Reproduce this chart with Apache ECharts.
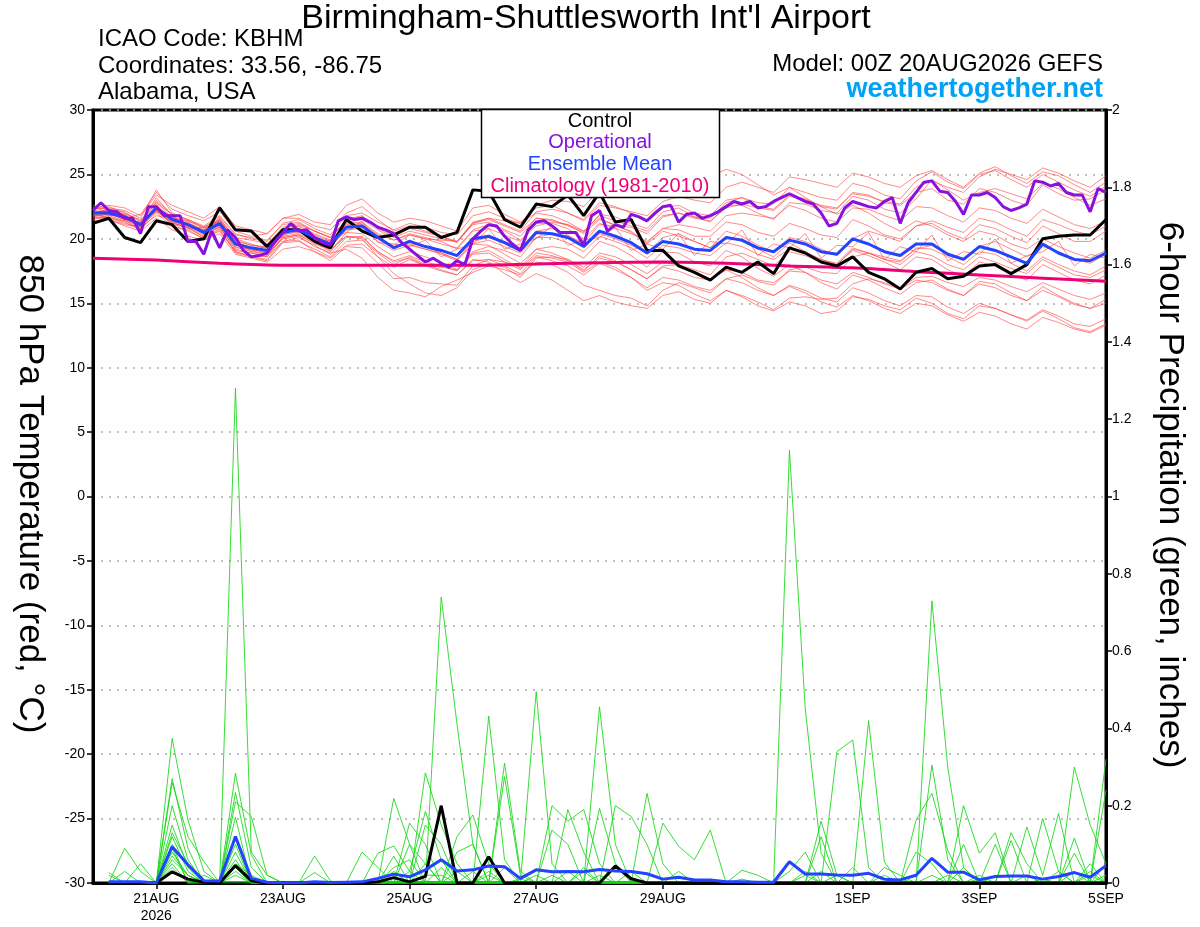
<!DOCTYPE html>
<html><head><meta charset="utf-8">
<script src="https://cdn.jsdelivr.net/npm/echarts@6/dist/echarts.min.js"></script>
<style>html,body{margin:0;padding:0;background:#fff}#c{width:1200px;height:927px}</style>
</head><body><div id="c"></div>
<script>
// x axis: hours since 00Z 20AUG2026
const tickHours = [24, 72, 120, 168, 216, 288, 336, 384];
const tickLabels = ['21AUG\n2026', '23AUG', '25AUG', '27AUG', '29AUG', '1SEP', '3SEP', '5SEP'];

// 850 hPa temperature (6-hourly from h0)
const controlT = [21.2,21.6,20.1,19.7,21.4,21.1,19.8,20.0,22.4,20.7,20.6,19.4,20.7,20.7,19.8,19.3,21.5,20.6,20.1,20.3,20.9,20.9,20.1,20.5,23.8,23.7,21.5,20.9,22.7,22.5,23.4,21.8,23.6,21.3,21.5,19.1,19.1,17.9,17.4,16.8,17.8,17.4,18.2,17.3,19.3,18.9,18.2,17.9,18.6,17.4,16.9,16.1,17.4,17.7,16.9,17.1,17.9,18.0,17.3,18.0,20.0,20.2,20.3,20.3,21.5];
const meanT = [22.0,22.0,21.7,21.1,22.4,21.5,21.1,20.5,21.2,19.6,19.3,19.1,20.5,20.7,20.1,19.6,20.9,21.0,20.1,19.3,19.8,19.4,19.1,18.7,20.0,20.2,19.7,19.1,20.5,20.4,20.1,19.4,20.6,20.2,19.7,18.9,19.8,19.6,19.2,19.1,20.1,19.9,19.3,19.0,19.9,19.6,19.0,18.8,20.0,19.6,19.0,18.7,19.6,19.6,18.8,18.4,19.4,19.1,18.6,18.1,19.6,18.9,18.4,18.3,18.9];
// operational (3-hourly from h0)
const operationalT = [22.2,22.8,22.2,22.1,21.6,21.6,20.4,22.5,22.5,21.8,21.8,21.8,19.8,19.8,18.8,20.6,
19.3,20.7,20.1,19.1,18.6,18.7,18.9,19.8,20.5,21.2,20.6,20.7,20.1,19.7,19.5,21.4,
21.7,21.5,21.6,21.3,20.9,20.7,20.4,19.7,19.2,18.7,18.2,18.5,18.1,17.8,18.3,18.0,
20.0,20.6,21.1,21.0,20.2,19.6,19.1,20.7,21.3,21.4,21.0,20.5,20.5,20.5,19.5,21.8,
22.2,20.6,21.1,20.9,21.9,21.7,21.4,22.0,22.5,22.6,21.3,21.9,22.0,21.6,21.8,22.1,
22.5,22.9,22.7,22.9,22.4,22.5,22.9,23.2,23.5,23.2,22.9,22.7,22.0,21.0,21.2,22.4,
22.9,22.7,22.5,22.4,22.9,23.2,21.2,22.8,23.6,24.4,24.5,23.7,23.6,22.9,21.9,23.4,
23.4,23.6,23.2,22.5,22.2,22.4,22.7,24.5,24.4,24.1,24.3,23.6,23.4,23.4,22.1,23.9,
23.6];
// climatology (daily from h0)
const climT = [18.5,18.35,18.1,17.95,17.95,17.95,17.95,18.05,18.15,18.2,18.1,17.9,17.75,17.45,17.2,16.95,16.7];

// ensemble members, temperature (6-hourly from h0)
const memT01 = [22.3,22.5,22.0,21.4,23.0,21.9,21.5,21.0,21.8,20.4,20.0,19.8,21.2,21.5,20.8,20.3,21.8,22.0,21.3,20.7,21.2,20.9,20.5,20.3,21.8,22.1,21.6,21.2,22.4,22.6,22.0,21.5,22.8,22.5,22.0,21.3,22.4,22.6,22.0,21.8,23.0,23.2,22.5,22.3,23.4,23.1,22.5,22.3,23.6,23.4,22.8,22.6,23.6,23.9,23.0,22.7,23.9,23.6,23.0,22.6,24.2,23.5,23.0,23.1,23.8];
const memT02 = [21.6,21.7,21.3,20.7,22.0,21.0,20.7,20.0,20.6,19.0,18.6,18.3,19.7,19.8,19.2,18.6,19.8,19.9,18.9,18.0,18.6,18.0,17.6,17.2,18.3,18.4,17.9,17.3,18.6,18.3,17.9,17.2,18.1,17.6,17.0,16.2,17.0,16.8,16.3,16.0,16.9,16.6,16.0,15.6,16.4,16.0,15.4,15.1,16.2,15.8,15.2,14.8,15.6,15.5,14.7,14.2,15.0,14.6,14.1,13.7,14.5,14.0,13.4,13.2,13.8];
const memT03 = [22.1,21.8,21.9,21.5,22.1,21.8,20.8,20.9,21.0,19.9,19.0,19.5,20.2,21.0,19.7,19.9,20.5,21.4,19.7,19.6,19.4,19.9,18.6,19.2,19.6,20.8,19.2,19.6,20.0,21.0,19.5,19.9,20.1,20.9,19.1,19.6,19.2,20.4,18.7,19.8,19.6,20.7,18.7,19.6,19.3,20.4,18.5,19.5,19.4,20.5,18.4,19.4,19.0,20.3,18.3,19.0,18.8,20.0,18.1,18.7,19.0,19.8,17.9,18.8,18.5];
const memT04 = [22.6,22.2,21.6,21.9,23.6,22.3,21.8,21.4,22.1,20.6,20.2,20.4,21.6,21.9,21.3,21.1,22.6,23.1,22.0,21.3,21.6,21.4,21.0,20.6,22.4,22.6,21.9,21.3,22.0,21.8,21.3,20.6,21.6,21.0,20.6,19.6,20.6,20.2,19.8,19.3,20.2,19.8,19.2,18.6,19.7,19.0,18.4,18.0,19.1,18.7,18.2,17.6,18.6,18.4,17.6,17.1,18.2,17.9,17.2,16.8,18.0,17.4,16.8,16.5,17.2];
const memT05 = [21.4,21.5,21.0,20.6,21.6,20.7,20.2,19.9,20.4,18.8,18.5,18.2,19.2,19.4,19.0,18.5,19.5,19.6,18.6,17.8,18.4,17.9,17.8,17.6,19.0,19.4,19.1,18.6,20.1,20.4,20.2,19.7,21.1,21.0,20.9,20.4,21.7,22.0,21.7,21.6,22.8,23.2,22.8,22.7,24.0,23.6,23.2,23.0,24.3,24.0,23.4,23.1,24.5,25.2,24.4,23.9,25.0,25.3,24.6,24.0,25.0,24.4,23.8,23.3,24.1];
const memT06 = [21.9,22.3,21.9,20.9,22.3,21.1,20.9,20.1,20.8,18.9,18.6,18.4,19.8,19.9,19.0,18.3,19.4,19.3,18.1,16.9,17.0,16.6,16.5,16.4,17.9,18.4,18.2,17.8,19.2,19.4,19.2,18.5,19.8,19.4,18.7,17.8,19.0,18.9,18.2,17.9,19.1,18.6,17.7,17.1,18.0,17.4,16.6,16.1,17.2,16.8,16.2,15.7,16.6,16.8,16.1,15.6,16.7,16.5,15.8,15.2,16.3,15.6,15.0,14.6,15.3];
const memT07 = [22.4,22.6,22.4,21.8,23.4,22.6,22.1,21.6,22.5,21.0,20.7,20.4,21.6,21.6,21.0,20.7,22.0,22.5,21.5,20.6,21.0,20.6,20.2,19.8,21.3,21.6,21.1,20.6,22.1,22.3,22.0,21.4,22.6,22.4,22.1,21.8,22.9,23.3,23.0,22.8,24.0,24.4,24.0,23.6,24.8,24.6,24.3,24.0,25.1,24.8,24.3,24.0,24.9,25.3,24.6,24.0,25.1,25.6,24.9,24.3,25.2,24.9,24.2,23.6,24.4];
const memT08 = [21.8,22.0,21.5,21.0,22.6,21.4,21.0,20.4,21.1,19.5,19.1,18.8,20.1,20.3,19.7,19.0,20.5,20.4,19.4,18.6,19.0,18.6,18.2,17.6,18.8,18.9,18.2,17.6,18.7,18.5,18.2,17.4,18.2,17.8,17.0,16.0,16.6,16.4,15.7,15.2,16.0,15.5,14.8,14.4,15.1,14.8,14.2,14.4,15.5,15.3,14.8,14.5,15.4,15.0,14.2,13.8,14.8,14.6,14.1,13.6,14.4,13.8,13.1,12.8,13.4];
const memT09 = [22.2,22.1,21.8,21.2,22.2,21.6,21.4,20.9,21.5,20.1,19.9,19.6,20.9,21.2,20.6,20.1,21.3,21.5,20.7,19.9,20.4,20.1,19.8,19.2,20.6,20.8,20.3,19.8,21.2,21.2,20.8,20.0,21.2,20.8,20.4,19.8,20.8,20.7,20.2,20.2,21.3,21.1,20.5,20.2,21.2,20.8,20.3,20.1,21.5,21.0,20.3,20.0,21.0,21.2,20.5,20.0,21.1,20.8,20.2,19.7,21.0,20.4,19.8,19.8,20.6];
const memT10 = [21.7,21.9,21.6,21.1,22.7,21.3,20.8,20.2,21.0,19.1,18.9,18.6,20.1,20.3,19.6,19.2,20.2,20.0,18.6,17.3,16.5,15.8,15.6,16.2,17.6,18.1,17.8,17.0,18.5,18.6,18.4,17.6,18.5,18.2,17.6,16.9,17.9,18.0,17.6,17.2,18.6,18.9,18.4,17.9,19.0,18.7,18.2,18.0,19.2,18.9,18.4,18.2,19.3,19.2,18.6,18.0,19.0,18.8,18.1,17.5,18.6,18.0,17.5,17.2,17.9];
const memT11 = [22.0,21.6,21.4,21.0,22.5,21.7,21.3,20.6,21.5,19.8,19.5,19.4,20.8,21.1,20.6,20.1,21.5,21.8,20.8,20.1,20.6,20.3,20.0,19.8,21.2,21.6,21.4,21.2,22.6,23.0,22.9,22.5,23.8,24.0,24.2,24.4,25.3,25.5,25.2,24.8,25.4,25.0,24.2,23.4,24.0,23.2,22.5,21.9,22.6,22.0,21.2,20.6,21.4,21.0,20.3,19.8,20.6,20.3,19.6,19.2,20.0,19.4,18.9,18.5,19.1];
const memT12 = [22.0,22.2,21.9,21.0,22.1,21.3,21.1,20.4,20.9,19.2,18.9,18.7,20.2,20.4,19.8,19.1,20.2,20.1,19.0,18.3,18.7,18.2,17.9,17.5,18.9,19.1,18.4,17.7,18.9,18.7,18.3,17.5,18.7,18.3,17.6,16.9,17.8,17.5,17.0,16.8,17.6,17.4,16.8,16.6,17.5,17.4,16.8,16.5,17.4,17.0,16.5,16.1,16.8,16.6,16.0,15.6,16.5,16.2,15.6,15.2,16.0,15.5,14.9,14.6,15.0];
const memT13 = [22.5,22.0,21.5,21.3,23.2,21.8,21.0,20.7,21.6,20.0,19.6,19.2,20.4,20.5,20.1,19.4,20.7,21.0,20.0,19.5,20.3,20.0,19.9,19.8,21.1,21.3,20.7,20.2,21.6,21.5,21.0,20.5,21.9,21.7,21.2,20.8,22.1,22.4,21.7,21.3,22.6,22.6,22.0,21.5,22.8,22.7,22.2,22.0,23.3,23.0,22.3,22.0,23.1,24.6,23.8,23.0,23.6,23.9,23.5,23.1,24.3,23.9,23.2,22.6,23.1];
const memT14 = [21.5,21.8,21.4,20.8,22.2,21.2,20.9,20.3,20.9,19.4,19.0,18.8,20.0,20.2,19.4,18.9,19.2,18.5,17.0,16.0,15.8,15.5,16.3,16.8,17.4,17.9,17.6,17.2,18.2,18.0,17.4,16.4,16.0,15.6,15.4,14.8,16.0,16.6,16.2,15.8,16.9,17.2,16.7,16.4,17.6,17.8,17.4,17.3,18.6,18.9,18.6,18.3,19.2,19.5,18.9,18.5,19.4,19.8,19.2,18.6,19.4,19.0,18.4,18.1,18.8];
const memT15 = [22.0,22.3,22.1,21.3,22.8,21.9,21.4,20.8,21.4,19.9,19.5,19.3,20.7,21.0,20.4,19.9,21.2,21.3,20.4,19.9,20.3,20.0,19.6,19.3,20.7,21.1,20.6,19.9,21.0,21.3,21.1,20.4,21.5,21.1,20.5,19.7,20.8,21.1,20.9,20.6,21.8,22.0,21.8,21.6,22.6,22.2,21.6,21.3,22.4,22.3,21.8,21.4,22.5,22.4,21.8,21.3,22.4,22.2,21.6,21.2,22.3,21.7,21.1,20.8,21.4];
const memT16 = [21.9,21.6,21.2,20.9,22.4,21.0,20.6,20.0,20.7,19.0,18.7,18.6,19.8,20.1,19.5,18.8,20.1,20.2,19.0,18.2,18.5,17.9,17.5,17.2,18.4,18.2,17.3,16.6,17.3,16.8,16.0,15.2,15.6,15.1,14.8,14.6,15.6,15.9,15.3,15.0,16.0,15.6,15.1,14.5,15.4,15.5,15.3,15.4,16.5,16.9,16.6,16.2,17.0,17.1,16.6,16.3,17.0,16.8,16.3,15.9,16.6,16.1,15.6,15.3,15.8];
const memT17 = [21.8,21.9,21.5,21.1,22.3,21.2,21.0,20.5,21.1,19.3,19.2,18.9,20.3,20.6,19.9,19.4,20.7,20.8,19.8,19.1,19.5,19.2,18.9,18.4,19.6,19.9,19.4,18.9,20.1,20.1,19.7,19.0,20.2,19.8,19.3,18.5,19.5,19.3,18.9,18.7,19.7,19.4,18.8,18.4,19.2,18.9,18.4,18.1,19.3,18.9,18.4,18.0,19.0,18.7,18.0,17.6,18.6,18.2,17.7,17.3,18.4,17.8,17.2,17.0,17.6];
const memT18 = [22.3,22.4,22.2,21.6,23.8,22.0,21.5,20.9,21.7,20.3,20.1,19.9,21.1,21.3,20.6,20.1,21.4,21.7,20.9,20.2,20.8,20.5,20.2,19.7,21.2,21.5,21.0,20.5,21.6,21.4,21.1,20.6,21.8,21.4,21.0,20.6,21.8,22.0,21.6,21.4,22.4,22.7,22.4,22.2,23.3,23.0,22.6,22.4,23.5,23.3,22.9,22.7,24.0,24.5,24.0,23.6,24.8,25.4,25.0,24.6,25.5,25.1,24.5,24.0,24.9];
const memT19 = [21.7,21.5,21.1,20.9,21.8,21.5,21.2,20.7,21.4,19.7,19.3,19.1,20.4,20.8,20.3,19.8,21.1,21.2,20.3,19.3,19.9,19.4,18.9,18.4,19.8,20.1,19.8,19.3,20.6,20.8,20.3,19.5,20.4,20.0,19.5,18.9,20.1,20.4,19.8,19.3,20.6,20.2,19.5,19.0,20.1,19.8,19.2,18.7,20.0,20.6,20.2,19.8,21.0,21.4,20.9,20.5,21.6,21.3,20.7,20.2,21.5,21.1,20.6,20.3,21.0];
const memT20 = [22.1,22.1,21.7,21.2,22.9,21.6,21.2,20.6,21.4,19.6,19.2,18.9,20.5,20.8,20.2,19.6,21.0,21.1,20.0,19.4,19.6,19.2,18.8,18.3,19.6,19.5,18.8,18.1,19.2,18.9,18.4,17.8,18.9,18.6,18.0,17.3,18.2,18.0,17.4,16.9,17.6,17.0,16.2,15.6,16.3,15.8,15.1,14.7,15.6,15.2,14.6,14.2,15.0,14.8,14.1,13.6,14.3,14.0,13.4,13.0,13.9,13.5,13.0,12.7,13.3];
const membersT = [memT01,memT02,memT03,memT04,memT05,memT06,memT07,memT08,memT09,memT10,memT11,memT12,memT13,memT14,memT15,memT16,memT17,memT18,memT19,memT20];

// 6-hour precipitation (inches), 6-hourly from h6
const controlP = [0,0,0,0,0.029,0.01,0.002,0, 0.045,0.006,0,0,0,0,0,0, 0,0.003,0.014,0.003,0.017,0.2,0,0, 0.068,0,0,0,0,0,0,0, 0.044,0.011,0,0,0,0,0,0, 0,0,0,0,0,0,0,0, 0,0,0,0,0,0,0,0, 0,0,0,0,0,0,0,0];
const meanP = [0.003,0.003,0.003,0,0.094,0.047,0.006,0.005, 0.12,0.012,0.002,0,0,0.003,0.001,0.002, 0.003,0.012,0.023,0.016,0.034,0.06,0.031,0.034, 0.044,0.042,0.012,0.034,0.029,0.03,0.029,0.035, 0.031,0.03,0.024,0.01,0.015,0.008,0.008,0.003, 0.003,0.002,0.002,0.055,0.023,0.023,0.021,0.02, 0.025,0.01,0.008,0.02,0.064,0.028,0.028,0.008, 0.017,0.018,0.018,0.01,0.017,0.027,0.015,0.045];
const memP01 = [0.027,0,0,0,0.374,0.163,0.03,0, 0.284,0.073,0,0,0,0,0,0, 0,0,0,0,0.285,0.15,0.05,0, 0,0,0,0.495,0.05,0,0,0, 0,0,0,0,0,0,0,0, 0,0,0,0.03,0.08,0,0,0, 0,0,0,0,0.305,0.06,0,0, 0,0,0,0,0,0.3,0.15,0.05];
const memP02 = [0,0,0,0,0.27,0.09,0,0, 1.28,0.08,0.02,0,0,0,0,0, 0,0,0.04,0.06,0,0.74,0.41,0.1, 0,0,0,0,0,0,0,0.193, 0.05,0,0,0,0,0,0,0, 0,0,0,0,0,0.16,0.02,0, 0,0,0,0.163,0.232,0.085,0,0, 0,0,0,0.167,0.03,0,0,0];
const memP03 = [0,0.09,0.03,0,0.26,0.12,0.056,0, 0.234,0.04,0,0,0,0.07,0.005,0, 0,0,0,0,0,0,0,0, 0.432,0.06,0,0,0,0,0,0, 0,0,0.232,0.05,0,0,0,0, 0,0,0,1.12,0.45,0.077,0,0, 0,0,0,0,0,0,0,0, 0,0.13,0.05,0,0,0,0,0.32];
const memP04 = [0,0,0.05,0,0.2,0.06,0,0, 0.21,0.172,0.02,0,0,0,0,0, 0,0,0.219,0.1,0.05,0,0,0, 0,0.31,0.03,0,0,0.19,0.08,0, 0,0,0,0,0,0,0,0, 0,0,0,0,0,0,0.34,0.37, 0.04,0,0,0,0,0,0.2,0.077, 0.13,0,0,0,0,0,0.05,0];
const memP05 = [0.02,0,0,0,0.15,0.04,0,0, 0.17,0,0,0,0,0.027,0,0, 0,0.077,0.096,0.03,0.185,0.06,0,0, 0,0,0,0,0.2,0.16,0.19,0.05, 0,0,0,0,0,0,0,0, 0,0,0,0,0,0,0,0, 0.42,0.054,0,0,0.73,0.3,0.04,0, 0,0,0,0,0,0.116,0,0.24];
const memP06 = [0,0,0,0,0.12,0.03,0,0, 0.12,0,0,0,0,0,0,0, 0.08,0.04,0,0.155,0.1,0,0.12,0.176, 0.05,0,0,0,0,0,0,0, 0.2,0.172,0.1,0,0,0,0,0, 0,0,0,0,0,0.12,0,0, 0,0.04,0.02,0,0,0,0,0, 0,0,0.145,0.02,0.18,0,0,0];
const memP07 = [0,0,0,0,0.08,0.02,0,0, 0.1,0,0,0,0,0,0,0, 0,0,0,0,0.15,0.1,0,0, 0,0.275,0.02,0,0,0,0,0.456, 0.1,0,0,0.155,0.095,0.06,0.137,0, 0,0,0,0,0,0,0,0, 0,0,0,0,0,0,0.1,0, 0,0.11,0,0,0,0.077,0,0];
const memP08 = [0,0,0,0,0.06,0.02,0,0, 0.08,0,0,0,0,0,0,0, 0,0,0.07,0,0,0,0.08,0.1, 0,0,0,0,0.137,0.1,0,0, 0,0,0,0,0.03,0,0,0, 0.033,0.02,0,0,0,0,0,0, 0,0,0,0.08,0.05,0,0,0, 0.1,0,0,0,0,0,0,0.05];
const memP09 = [0,0.03,0,0,0.05,0,0,0, 0.06,0,0,0,0,0,0,0, 0,0,0,0.1,0,0.04,0,0, 0.02,0,0,0.02,0,0,0,0, 0,0.03,0,0,0,0,0,0, 0,0,0,0,0.02,0,0,0.04, 0,0,0,0,0,0,0,0.02, 0,0,0,0,0.03,0,0.02,0];
const memP10 = [0,0,0,0,0.1,0,0,0, 0.04,0,0,0,0,0,0,0, 0,0,0,0,0.05,0,0,0, 0,0.04,0,0,0,0,0.04,0, 0,0,0,0,0,0,0,0, 0,0,0,0,0,0,0,0, 0,0.02,0,0,0,0,0.04,0, 0,0,0,0,0,0.03,0,0];
const memP11 = [0,0,0,0,0.09,0,0.02,0, 0.03,0,0,0,0,0,0,0, 0,0,0.03,0,0,0,0,0.03, 0,0,0,0,0,0.03,0,0, 0,0,0,0,0,0,0,0, 0,0,0,0,0.03,0,0,0, 0,0,0,0,0,0.02,0,0, 0,0,0,0,0,0,0,0];
const memP12 = [0,0,0,0,0.07,0.02,0,0, 0,0,0,0,0,0,0,0, 0,0,0,0,0,0,0,0, 0.03,0,0.01,0,0,0,0,0.02, 0,0,0,0,0,0,0,0, 0,0,0,0,0,0.03,0,0, 0,0,0,0,0.02,0,0,0, 0,0,0,0.01,0,0,0,0];
const memP13 = [0,0,0,0,0.13,0.05,0,0, 0.05,0.02,0,0,0,0,0,0, 0,0,0,0.03,0,0,0.03,0, 0,0,0,0,0.02,0,0,0, 0,0,0,0,0,0,0,0, 0,0,0,0,0,0,0.02,0, 0,0,0.01,0,0,0,0,0, 0,0,0.02,0,0,0,0.03,0];
const memP14 = [0,0,0,0,0.04,0,0,0, 0.02,0,0,0,0,0,0,0, 0,0,0,0,0.02,0.02,0,0, 0,0,0,0,0,0,0.03,0, 0,0,0,0,0,0,0,0, 0.01,0,0,0,0,0,0,0, 0,0,0,0,0,0,0,0.01, 0,0,0,0,0,0,0,0.02];
const membersP = [memP01,memP02,memP03,memP04,memP05,memP06,memP07,memP08,memP09,memP10,memP11,memP12,memP13,memP14];

const FONT = '"Liberation Sans", Arial, Helvetica, sans-serif';
const pairs = (arr, step, start) => arr.map((v, i) => [start + i * step, v]);

const series = [];
membersT.forEach((m, k) => series.push({
  type: 'line', name: 'memT' + k, data: pairs(m, 6, 0), yAxisIndex: 0,
  symbol: 'none', silent: true, z: 1,
  lineStyle: { color: 'rgba(255,60,60,0.6)', width: 1 }
}));
membersP.forEach((m, k) => series.push({
  type: 'line', name: 'memP' + k, data: pairs(m, 6, 6), yAxisIndex: 1,
  symbol: 'none', silent: true, z: 1,
  lineStyle: { color: 'rgba(20,215,20,0.85)', width: 1 }
}));
series.push({ type: 'line', name: 'Climatology', data: pairs(climT, 24, 0), yAxisIndex: 0, symbol: 'none', smooth: 0.3, z: 3,
  lineStyle: { color: '#ee0077', width: 3 } });
series.push({ type: 'line', name: 'ControlP', data: pairs(controlP, 6, 6), yAxisIndex: 1, symbol: 'none', z: 3,
  lineStyle: { color: '#000', width: 3 } });
series.push({ type: 'line', name: 'MeanP', data: pairs(meanP, 6, 6), yAxisIndex: 1, symbol: 'none', z: 4,
  lineStyle: { color: '#2244ff', width: 3 } });
series.push({ type: 'line', name: 'Control', data: pairs(controlT, 6, 0), yAxisIndex: 0, symbol: 'none', z: 3,
  lineStyle: { color: '#000', width: 3 } });
series.push({ type: 'line', name: 'Mean', data: pairs(meanT, 6, 0), yAxisIndex: 0, symbol: 'none', z: 4,
  lineStyle: { color: '#2244ff', width: 3 } });
series.push({ type: 'line', name: 'Operational', data: pairs(operationalT, 3, 0), yAxisIndex: 0, symbol: 'none', z: 5,
  lineStyle: { color: '#8811dd', width: 3 } });

const chart = echarts.init(document.getElementById('c'));
chart.setOption({
  animation: false,
  backgroundColor: '#fff',
  textStyle: { fontFamily: FONT },
  grid: { left: 93, right: 94, top: 110, bottom: 44, show: true, borderColor: '#000', borderWidth: 3, containLabel: false },
  xAxis: {
    type: 'value', min: 0, max: 384,
    axisLine: { show: true, onZero: false, lineStyle: { color: '#000', width: 3 } },
    axisTick: { show: true, customValues: tickHours, length: 6, lineStyle: { color: '#000', width: 1.5 } },
    axisLabel: { customValues: tickHours, color: '#000', fontSize: 14, fontFamily: FONT, margin: 8, lineHeight: 17,
      formatter: v => { const i = tickHours.indexOf(v); return i >= 0 ? tickLabels[i] : ''; } },
    splitLine: { show: false }
  },
  yAxis: [
    { type: 'value', min: -30, max: 30, interval: 5, position: 'left',
      axisLine: { show: true, onZero: false, lineStyle: { color: '#000', width: 3 } },
      axisTick: { show: true, length: 6, lineStyle: { color: '#000', width: 1.5 } },
      axisLabel: { color: '#000', fontSize: 14, fontFamily: FONT, margin: 8 },
      splitLine: { show: true, lineStyle: { color: '#aaa', type: [2, 6], width: 1.5 } } },
    { type: 'value', min: 0, max: 2, interval: 0.2, position: 'right',
      axisLine: { show: true, onZero: false, lineStyle: { color: '#000', width: 3 } },
      axisTick: { show: true, length: 6, lineStyle: { color: '#000', width: 1.5 } },
      axisLabel: { color: '#000', fontSize: 14, fontFamily: FONT, margin: 6 },
      splitLine: { show: false } }
  ],
  graphic: [
    { type: 'text', x: 586, y: 19, style: { text: "Birmingham-Shuttlesworth Int'l Airport", font: '34px ' + FONT, fill: '#000', textAlign: 'center', textVerticalAlign: 'middle' }, z: 10 },
    { type: 'text', x: 98, y: 39, style: { text: 'ICAO Code: KBHM', font: '24px ' + FONT, fill: '#000', textVerticalAlign: 'middle' }, z: 10 },
    { type: 'text', x: 98, y: 66, style: { text: 'Coordinates: 33.56, -86.75', font: '24px ' + FONT, fill: '#000', textVerticalAlign: 'middle' }, z: 10 },
    { type: 'text', x: 98, y: 92, style: { text: 'Alabama, USA', font: '24px ' + FONT, fill: '#000', textVerticalAlign: 'middle' }, z: 10 },
    { type: 'text', x: 1103, y: 64, style: { text: 'Model: 00Z 20AUG2026 GEFS', font: '24px ' + FONT, fill: '#000', textAlign: 'right', textVerticalAlign: 'middle' }, z: 10 },
    { type: 'text', x: 1103, y: 90, style: { text: 'weathertogether.net', font: 'bold 27px ' + FONT, fill: '#00a2f5', textAlign: 'right', textVerticalAlign: 'middle' }, z: 10 },
    { type: 'text', x: 30, y: 494, rotation: -Math.PI / 2, style: { text: '850 hPa Temperature (red, °C)', font: '35px ' + FONT, fill: '#000', textAlign: 'center', textVerticalAlign: 'middle' }, z: 10 },
    { type: 'text', x: 1170, y: 495, rotation: -Math.PI / 2, style: { text: '6-hour Precipitation (green, inches)', font: '35px ' + FONT, fill: '#000', textAlign: 'center', textVerticalAlign: 'middle' }, z: 10 },
    { type: 'rect', shape: { x: 481.5, y: 109.5, width: 238, height: 88 }, style: { fill: '#fff', stroke: '#000', lineWidth: 1.5 }, z: 20 },
    { type: 'text', x: 600, y: 121, style: { text: 'Control', font: '20px ' + FONT, fill: '#000', textAlign: 'center', textVerticalAlign: 'middle' }, z: 21 },
    { type: 'text', x: 600, y: 142, style: { text: 'Operational', font: '20px ' + FONT, fill: '#8811dd', textAlign: 'center', textVerticalAlign: 'middle' }, z: 21 },
    { type: 'text', x: 600, y: 164, style: { text: 'Ensemble Mean', font: '20px ' + FONT, fill: '#2244ff', textAlign: 'center', textVerticalAlign: 'middle' }, z: 21 },
    { type: 'text', x: 600, y: 186, style: { text: 'Climatology (1981-2010)', font: '20px ' + FONT, fill: '#ee0077', textAlign: 'center', textVerticalAlign: 'middle' }, z: 21 }
  ],
  series: series
});
</script>
</body></html>
